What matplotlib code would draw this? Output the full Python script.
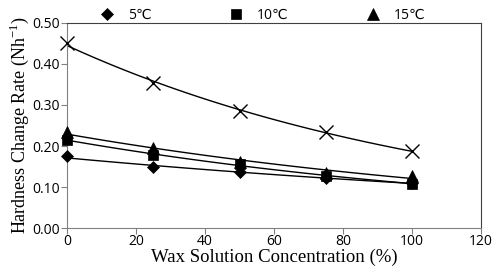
import matplotlib.pyplot as plt
import numpy as np

# Data
concentration = [0, 25, 50, 75, 100]
rate_5c = [0.175, 0.148, 0.137, 0.121, 0.110]
rate_10c = [0.215, 0.178, 0.155, 0.128, 0.108]
rate_15c = [0.235, 0.195, 0.162, 0.135, 0.127]
rate_x = [0.450, 0.354, 0.285, 0.235, 0.187]

x_ticks = [0, 20, 40, 60, 80, 100, 120]
y_ticks = [0.0, 0.1, 0.2, 0.3, 0.4, 0.5]


def exp_trend(x, y):
    # exponential trendline like a spreadsheet would draw
    b, a = np.polyfit(x, np.log(y), 1)
    xs = np.linspace(min(x), max(x), 100)
    return xs, np.exp(a + b * xs)


def main():
    plt.rcParams["font.family"] = ["Open Sans", "DejaVu Sans"]
    fig = plt.figure(figsize=(5.0, 2.69), dpi=100)
    ax = fig.add_axes([0.134, 0.152, 0.828, 0.763])

    series = [
        (rate_5c, "D", 6, "5℃"),
        (rate_10c, "s", 7, "10℃"),
        (rate_15c, "^", 8, "15℃"),
        (rate_x, "x", 10, None),
    ]
    for vals, marker, ms, label in series:
        xs, ys = exp_trend(concentration, vals)
        ax.plot(xs, ys, color="black", lw=1.0, zorder=2)
        ax.plot(concentration, vals, linestyle="none", marker=marker, markersize=ms,
                color="black", markeredgewidth=1.0 if marker == "x" else 0.5,
                label=label if label else "_nolegend_", zorder=3, clip_on=False)

    ax.set_xlim(0, 120)
    ax.set_ylim(0, 0.5)
    ax.set_xticks(x_ticks)
    ax.set_yticks(y_ticks)
    ax.set_xticklabels([str(t) for t in x_ticks])
    ax.set_yticklabels([f"{t:.2f}" for t in y_ticks])
    ax.tick_params(direction="out", length=4, color="#808080", labelsize=10, pad=1)
    ax.tick_params(axis="x", pad=0)
    for side in ["left", "bottom"]:
        ax.spines[side].set_color("#808080")
    for side in ["top", "right"]:
        ax.spines[side].set_color("#404040")

    ax.set_xlabel("Wax Solution Concentration (%)", family="Liberation Serif",
                  fontsize=13.5, labelpad=0)
    ax.set_ylabel("Hardness Change Rate (Nh$^{\\mathregular{-1}}$)", family="Liberation Serif",
                  fontsize=13, labelpad=1)

    ax.legend(loc="lower center", bbox_to_anchor=(0.465, 0.975), ncol=3, frameon=False,
              columnspacing=5.1, handletextpad=0.5, borderaxespad=0,
              prop={"family": ["Open Sans", "DejaVu Sans"], "size": 10})

    fig.savefig("out.png", dpi=100)


if __name__ == "__main__":
    main()
